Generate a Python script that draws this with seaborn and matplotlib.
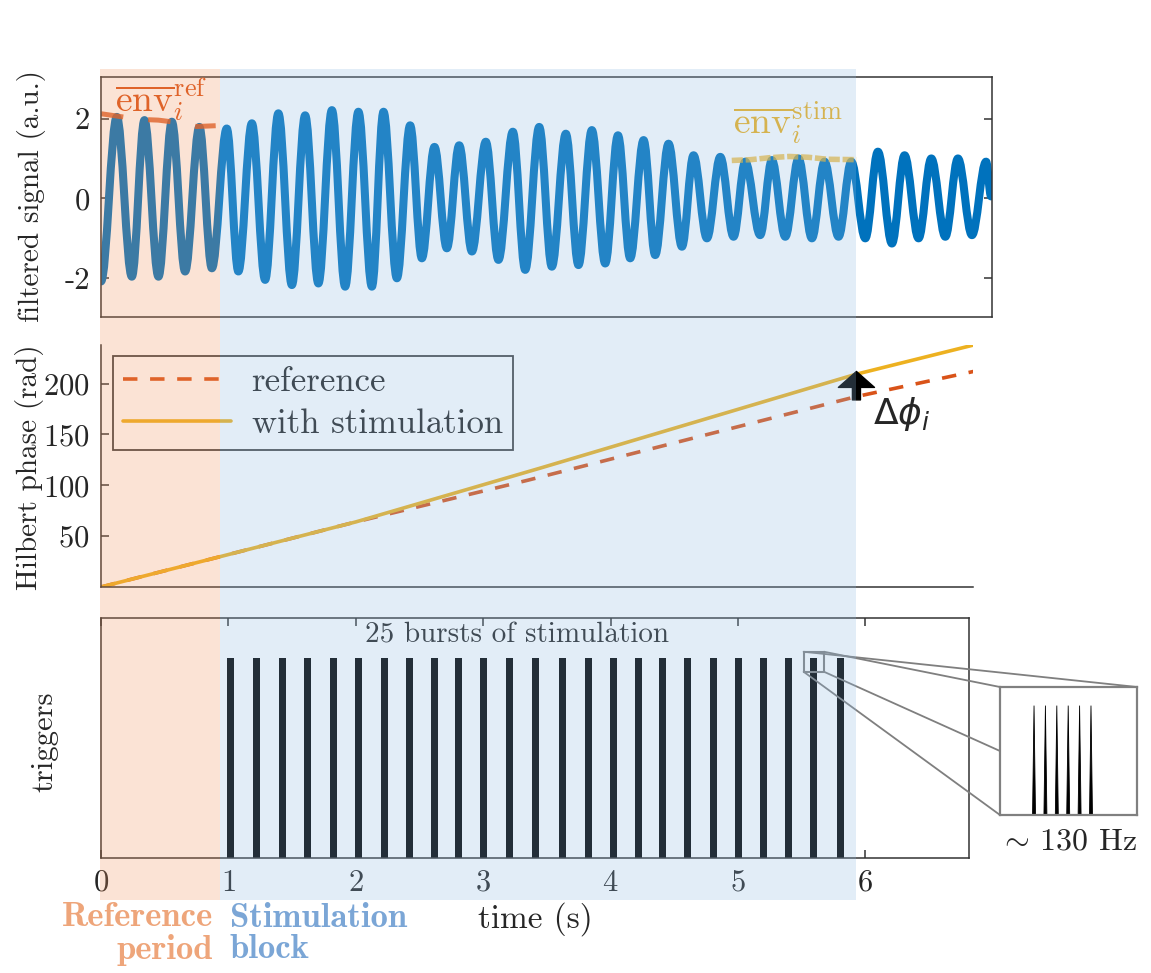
import matplotlib
matplotlib.use('Agg')
import matplotlib.pyplot as plt
import seaborn as sns
from matplotlib.path import Path
from matplotlib.patches import PathPatch, Rectangle, ConnectionPatch
from matplotlib.transforms import blended_transform_factory

# --- data ---
# filtered signal: successive troughs / peaks (time in s, value in a.u.)
sig_t = [0.000, 0.124, 0.242, 0.341, 0.451, 0.556, 0.660, 0.772, 0.870, 0.987,
         1.078, 1.184, 1.288, 1.392, 1.498, 1.602, 1.706, 1.812, 1.916, 2.020,
         2.126, 2.217, 2.322, 2.426, 2.518, 2.617, 2.714, 2.811, 2.911, 3.020,
         3.119, 3.232, 3.329, 3.439, 3.538, 3.648, 3.747, 3.852, 3.957, 4.057,
         4.153, 4.258, 4.349, 4.454, 4.559, 4.650, 4.755, 4.860, 4.964, 5.056,
         5.173, 5.265, 5.370, 5.474, 5.579, 5.678, 5.788, 5.888, 5.998, 6.097,
         6.207, 6.306, 6.416, 6.516, 6.626, 6.725, 6.835, 6.946, 6.985]
sig_v = [-2.08, 2.04, -1.96, 1.96, -1.96, 1.92, -1.83, 1.79, -1.75, 1.75,
         -1.83, 1.88, -2.04, 2.13, -2.17, 2.08, -2.13, 2.21, -2.21, 2.17,
         -2.21, 2.17, -2.0, 1.83, -1.5, 1.29, -1.25, 1.33, -1.33, 1.42,
         -1.54, 1.67, -1.79, 1.79, -1.71, 1.62, -1.67, 1.71, -1.63, 1.58,
         -1.5, 1.46, -1.42, 1.37, -1.21, 1.08, -1.0, 1.04, -0.96, 0.92,
         -0.92, 0.96, -0.96, 1.0, -1.0, 0.92, -0.96, 0.92, -1.0, 1.17,
         -1.13, 1.08, -1.0, 1.0, -0.96, 1.0, -0.92, 0.92, 0.05]

# mean envelopes
env_ref_t = [0.0, 0.15, 0.3, 0.45, 0.6, 0.75, 0.9]
env_ref_v = [2.12, 2.05, 1.98, 1.96, 1.9, 1.8, 1.82]
env_stim_t = [4.95, 5.1, 5.25, 5.4, 5.55, 5.7, 5.93]
env_stim_v = [0.95, 0.97, 1.02, 1.05, 1.03, 0.98, 0.97]

# Hilbert phase (rad)
phase_ref_t = [0.0, 0.94, 2.0, 3.35, 5.92, 6.85]
phase_ref = [0, 30, 64, 105, 187, 212]
phase_stim_t = [0.0, 0.94, 2.0, 3.45, 5.92, 6.85]
phase_stim = [0, 30, 64, 117, 209, 238]
dphi_t = 5.93
dphi_from, dphi_to = 184, 212

# trigger bursts (s)
burst_times = [1.019, 1.217, 1.422, 1.618, 1.824, 2.024, 2.228, 2.421, 2.617,
               2.805, 3.005, 3.206, 3.410, 3.622, 3.826, 4.025, 4.218, 4.407,
               4.606, 4.805, 5.001, 5.199, 5.399, 5.595, 5.801]
burst_height = 1.0
pulse_ms = [0, 7.7, 15.4, 23.1, 30.8, 38.5]   # pulses inside one burst (~130 Hz)

ref_period = (0.0, 0.935)
stim_block = (0.935, 5.925)

sig_ticks = [-2, 0, 2]
sig_ticklabels = ['-2', '0', '2']
phase_ticks = [50, 100, 150, 200]
time_ticks = [0, 1, 2, 3, 4, 5, 6]

# --- style ---
sns.set_style('white')
plt.rcParams['font.family'] = ['cmr10', 'DejaVu Serif']
plt.rcParams['mathtext.fontset'] = 'cm'
plt.rcParams['axes.formatter.use_mathtext'] = True
plt.rcParams['axes.unicode_minus'] = False

W, H = 1151, 973
def fx(x):
    return x / W
def fy(y):
    return 1 - y / H

spine_c = '#333333'
blue = '#0072BD'
orange = '#D95319'
yellow = '#EDB120'

fig = plt.figure(figsize=(W / 100, H / 100), dpi=100)

# ---------- top: filtered signal ----------
ax1 = fig.add_axes([fx(101), fy(317), fx(991.7) - fx(101), (317 - 77) / H])
verts = [(sig_t[0], sig_v[0])]
codes = [Path.MOVETO]
for i in range(1, len(sig_t)):
    t0, v0, t1, v1 = sig_t[i - 1], sig_v[i - 1], sig_t[i], sig_v[i]
    d = (t1 - t0) * 0.36
    verts += [(t0 + d, v0), (t1 - d, v1), (t1, v1)]
    codes += [Path.CURVE4] * 3
ax1.add_patch(PathPatch(Path(verts, codes), fill=False, edgecolor=blue, lw=5.8,
                        capstyle='round', joinstyle='round'))
sns.lineplot(x=env_ref_t, y=env_ref_v, ax=ax1, color=orange, lw=3.6, alpha=0.8,
             linestyle=(0, (4.5, 5)))
sns.lineplot(x=env_stim_t, y=env_stim_v, ax=ax1, color=yellow, lw=4, alpha=0.7,
             linestyle=(0, (2, 0.5)))
ax1.set_xlim(0, 6.99)
ax1.set_ylim(-2.97, 3.04)
ax1.set_xticks([])
ax1.set_yticks(sig_ticks, labels=sig_ticklabels)
ax1.tick_params(axis='y', direction='in', left=True, right=True, length=6,
                width=1.1, color=spine_c, labelsize=22, pad=8)
ax1.text(fx(115), fy(100), r'$\overline{\mathrm{env}}_i^{\mathrm{ref}}$',
         transform=fig.transFigure, color=orange, fontsize=27, ha='left', va='center')
ax1.text(fx(733), fy(123), r'$\overline{\mathrm{env}}_i^{\mathrm{stim}}$',
         transform=fig.transFigure, color=yellow, fontsize=27, ha='left', va='center')

# ---------- middle: Hilbert phase ----------
ax2 = fig.add_axes([fx(101), fy(587), fx(973) - fx(101), (587 - 345) / H])
sns.lineplot(x=phase_ref_t, y=phase_ref, ax=ax2, color=orange, lw=2.6,
             linestyle=(0, (4, 3.5)), label='reference')
sns.lineplot(x=phase_stim_t, y=phase_stim, ax=ax2, color=yellow, lw=2.6,
             label='with stimulation')
ax2.set_xlim(0, 6.845)
ax2.set_ylim(0, 238)
ax2.set_xticks([])
ax2.set_yticks(phase_ticks)
ax2.tick_params(axis='y', direction='in', left=True, length=6, width=1.1,
                color=spine_c, labelsize=22, pad=8)
for s in ['top', 'right']:
    ax2.spines[s].set_visible(False)
leg = ax2.legend(loc='upper left', bbox_to_anchor=(0.0134, 0.955), borderaxespad=0,
                 fontsize=25, handlelength=3.1, handletextpad=0.6, labelspacing=0.3,
                 borderpad=0.3, fancybox=False, framealpha=1, edgecolor='#404040')
leg.get_frame().set_facecolor('none')
leg.get_frame().set_linewidth(1.3)
ax2.annotate('', xy=(dphi_t, dphi_to), xytext=(dphi_t, dphi_from),
             arrowprops=dict(arrowstyle='simple,head_length=1.15,head_width=2.6,tail_width=0.58',
                             mutation_scale=10, color='k', shrinkA=0, shrinkB=0))
ax2.text(fx(873), fy(414), r'$\Delta\phi_i$', transform=fig.transFigure,
         fontsize=26, ha='left', va='center', math_fontfamily='dejavusans')

# ---------- bottom: triggers ----------
ax3 = fig.add_axes([fx(101), fy(858), fx(969) - fx(101), (858 - 617.7) / H])
ax3.bar(burst_times, burst_height, width=0.055, color='k', linewidth=0)
ax3.set_xlim(0, 6.813)
ax3.set_ylim(0, 1.2)
ax3.set_yticks([])
ax3.set_xticks(time_ticks)
ax3.tick_params(axis='x', direction='in', bottom=True, top=True, length=6,
                width=1.1, color=spine_c, labelsize=22, pad=8)
ax3.set_xlabel('time (s)', fontsize=24, labelpad=4)
ax3.text(0.479, 0.928, '25 bursts of stimulation', transform=ax3.transAxes,
         fontsize=21, ha='center', va='center')

bt = burst_times[23]
ax3.add_patch(Rectangle((bt - 0.08, 0.93), 0.16, 0.10, fill=False,
                        edgecolor='#7f7f7f', lw=1.5))

for ax in [ax1, ax2, ax3]:
    for s in ax.spines.values():
        s.set_color(spine_c)
        s.set_linewidth(1.1)

# ---------- inset: pulses of one burst ----------
ax4 = fig.add_axes([fx(1000), fy(815), 137 / W, 128 / H])
for p in pulse_ms:
    ax4.fill([p - 1.0, p, p + 1.0], [0, 1, 0], color='k', lw=0.6, edgecolor='k')
ax4.set_xlim(-23, 69.6)
ax4.set_ylim(0, 1.17)
ax4.set_xticks([])
ax4.set_yticks([])
for s in ax4.spines.values():
    s.set_color('#808080')
    s.set_linewidth(1.6)

x0, x1 = bt - 0.08, bt + 0.08
y0, y1 = 0.93, 1.03
for a, b in [((x0, y1), (1, 1)), ((x1, y1), (0, 1)), ((x1, y0), (0, 0.5)), ((x0, y0), (0, 0))]:
    con = ConnectionPatch(xyA=a, coordsA=ax3.transData, xyB=b, coordsB=ax4.transAxes,
                          color='#7f7f7f', lw=1.3)
    fig.add_artist(con)

fig.text(fx(1068), fy(842), r'$\sim\,$130 Hz', fontsize=23, ha='center', va='center')

# ---------- y labels ----------
fig.text(fx(32), fy(196), 'filtered signal (a.u.)', rotation=90, fontsize=21,
         ha='center', va='center')
fig.text(fx(30), fy(467), 'Hilbert phase (rad)', rotation=90, fontsize=21,
         ha='center', va='center')
fig.text(fx(45), fy(742), 'triggers', rotation=90, fontsize=22,
         ha='center', va='center')

# ---------- shaded periods ----------
tr = blended_transform_factory(ax3.transData, fig.transFigure)
for (a, b), c in [(ref_period, '#F3935B'), (stim_block, '#8FBBE3')]:
    fig.add_artist(Rectangle((a - (0.01 if a == 0 else 0), fy(900)), b - a + (0.01 if a == 0 else 0),
                             (900 - 69) / H, transform=tr, facecolor=c, alpha=0.25,
                             lw=0, zorder=5))

fig.text(fx(213), fy(934), 'Reference\nperiod', family='cmb10', fontsize=25,
         color='#EEA57A', ha='right', va='center', linespacing=1.0, multialignment='right')
fig.text(fx(230), fy(934), 'Stimulation\nblock', family='cmb10', fontsize=25,
         color='#7BA6D6', ha='left', va='center', linespacing=1.0, multialignment='left')

fig.savefig('out.png', dpi=100)
